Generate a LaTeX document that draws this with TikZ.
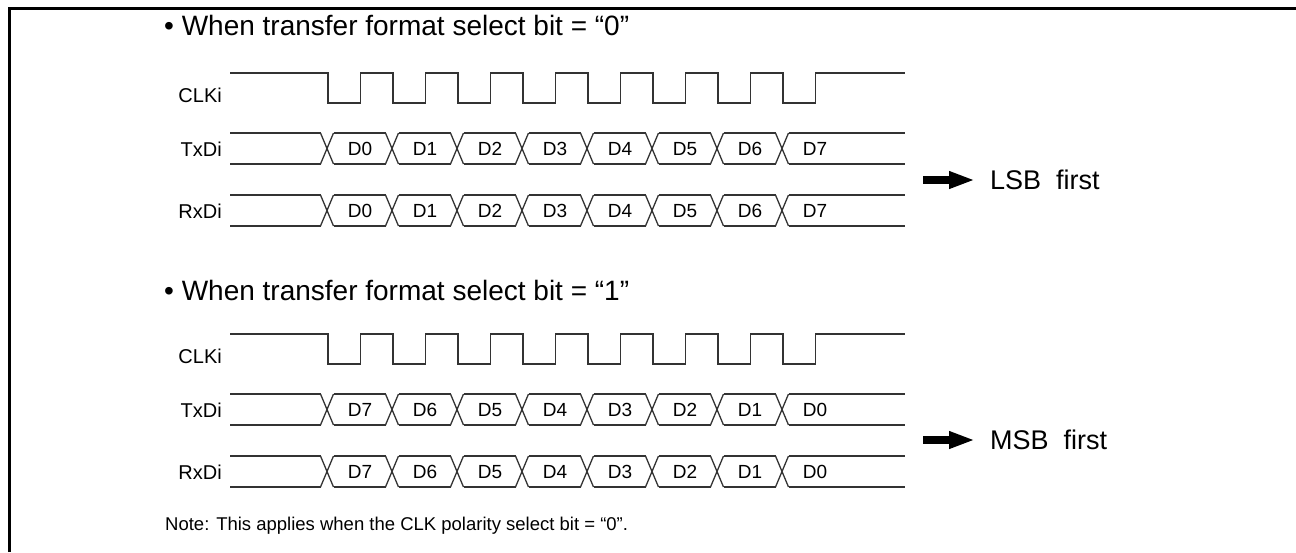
\documentclass[tikz,border=0pt]{standalone}
\usepackage{fontspec}
\setmainfont{Liberation Sans}
\usetikzlibrary{arrows.meta}

% clock waveform: #1 = top y, #2 = node name
\newcommand\clkrow[2]{%
  \node[lbl] (#2) at (222,{#1+22}) {CLKi};
  \draw[sig] (230,#1) \foreach \k in {0,...,7}{
    -- ({328+65*\k},#1) -- ({328+65*\k},{#1+30})
    -- ({360.5+65*\k},{#1+30}) -- ({360.5+65*\k},#1)} -- (905,#1);
}
% data waveform: #1 = top y, #2 = node name, #3 = label, #4 = bit order
\newcommand\datarow[4]{%
  \node[lbl] (#2) at (222,{#1+16}) {#3};
  \draw[sig] (230,#1) -- (320.5,#1);
  \draw[sig] (230,{#1+31}) -- (320.5,{#1+31});
  \foreach \d [count=\k from 0] in {#4}{
    \pgfmathsetmacro\xc{327+65*\k}
    \pgfmathsetmacro\xe{ifthenelse(\k==7,905,\xc+58.5)}
    \draw[sig] ({\xc-6.5},#1) -- ({\xc+6.5},{#1+31});
    \draw[sig] ({\xc-6.5},{#1+31}) -- ({\xc+6.5},#1);
    \draw[sig] ({\xc+6.5},#1) -- (\xe,#1);
    \draw[sig] ({\xc+6.5},{#1+31}) -- (\xe,{#1+31});
    \node[bit] (#2-\k) at ({\xc+33},{#1+16}) {D\d};
  }
}

\begin{document}
\begin{tikzpicture}[
x=1pt, y=-1pt,
every node/.style={inner sep=0pt},
sig/.style={draw=black!80, line width=1.3pt},
lbl/.style={anchor=east, font=\fontsize{20}{24}\selectfont},
bit/.style={font=\fontsize{19}{23}\selectfont},
title/.style={anchor=west, font=\fontsize{28}{32}\selectfont},
result/.style={anchor=west, font=\fontsize{27}{32}\selectfont},
bigarrow/.style={line width=8pt, -{Triangle[length=26pt,width=16pt]}}
]
\useasboundingbox (0,0) rectangle (1296,552);
% frame
\draw[line width=2.5pt] (9.5,552) -- (9.5,8.5) -- (1296,8.5);

% format bit = 0
\node[title] (head0) at (164,25) {• When transfer format select bit = “0”};
\clkrow{73}{clk0}
\datarow{133}{txd0}{TxDi}{0,1,2,3,4,5,6,7}
\datarow{195}{rxd0}{RxDi}{0,1,2,3,4,5,6,7}
\coordinate (lsbtail) at (923,180);
\node[result] (lsb) at (990,180) {LSB\ \ first};
\draw[bigarrow] (lsbtail) -- ([xshift=-15pt]lsb.west);

% format bit = 1
\node[title] (head1) at (164,290) {• When transfer format select bit = “1”};
\clkrow{334}{clk1}
\datarow{394}{txd1}{TxDi}{7,6,5,4,3,2,1,0}
\datarow{456}{rxd1}{RxDi}{7,6,5,4,3,2,1,0}
\coordinate (msbtail) at (923,440);
\node[result] (msb) at (990,440) {MSB\ \ first};
\draw[bigarrow] (msbtail) -- ([xshift=-15pt]msb.west);

\node[anchor=base west, font=\fontsize{18.5}{22}\selectfont] (note) at (165,530)
  {Note: This applies when the CLK polarity select bit = “0”.};
\end{tikzpicture}
\end{document}
